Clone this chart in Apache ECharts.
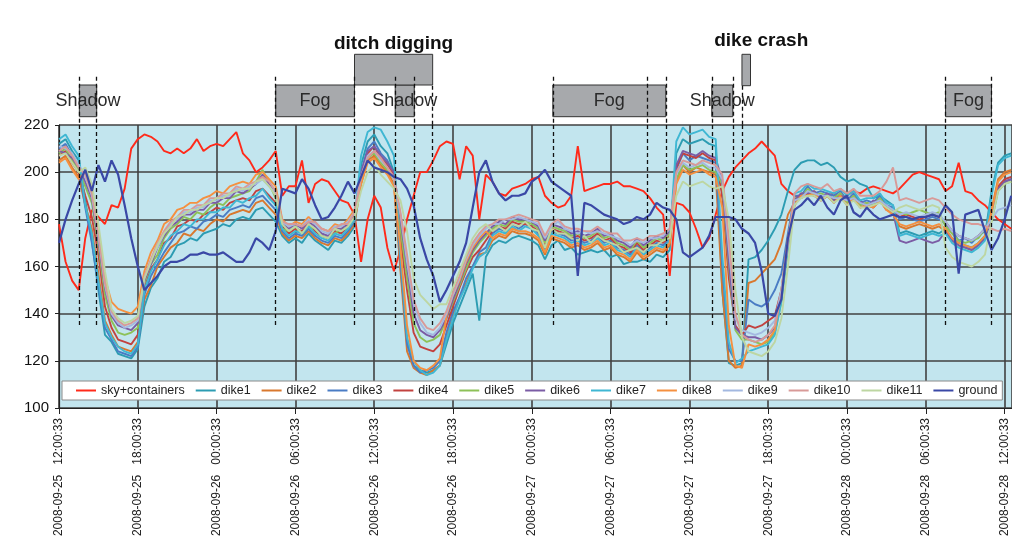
<!DOCTYPE html>
<html>
<head>
<meta charset="utf-8">
<script src="https://cdn.jsdelivr.net/npm/echarts@6/dist/echarts.min.js"></script>
<style>
html,body{margin:0;padding:0;background:#ffffff;}
#chart{width:1012px;height:543px;}
</style>
</head>
<body>
<div id="chart"></div>
<script>
// ---------- DATA ----------
const STEP_H = 0.5; // hours between samples, first sample = 2008-09-25 12:00:33
const xTickLabels = [
  '2008-09-25   12:00:33','2008-09-25   18:00:33','2008-09-26   00:00:33','2008-09-26   06:00:33',
  '2008-09-26   12:00:33','2008-09-26   18:00:33','2008-09-27   00:00:33','2008-09-27   06:00:33',
  '2008-09-27   12:00:33','2008-09-27   18:00:33','2008-09-28   00:00:33','2008-09-28   06:00:33',
  '2008-09-28   12:00:33'
];
const seriesNames = ['sky+containers','dike1','dike2','dike3','dike4','dike5','dike6','dike7','dike8','dike9','dike10','dike11','ground'];

const sky = [178,162,154,150,172,184,181,178,186,185,193,210,214,216,215,213,209,208,210,208,
210,214,209,211,212,211,214,217,208,205,200,202,205,209,190,194,194,205,187,195,
197,196,192,188,187,182,162,180,190,185,168,158,167,180,190,200,200,205,211,213,
212,197,211,207,180,199,196,191,190,193,194,195,197,198,190,187,185,186,190,211,
192,193,194,195,195,196,194,194,193,192,189,185,182,156,187,186,183,176,168,172,
182,192,198,202,205,208,210,213,210,207,195,192,190,189,191,190,188,190,191,189,
190,192,191,193,194,193,192,191,193,196,199,200,199,198,197,192,194,204,192,191,
188,186,183,180,178,176];

const dike1 = [212,214,209,205, 188,171,150,131, 128,123,122,121,125,
143,151,155,162,164,169,170,172,171,174,175,176,178,177,180,181,180,184,185,182,179,
173,170,172,170,174,171,169,167,171,170,173,177,
203,213,216,211,208,200,
160,128,118,116,115,116,118,
127,136,143,150,157,137,164,
169,171,170,172,173,172,171,169,163,169,171,167,168,165,166,167,166,167,164,165,161,162,162,163,162,165,164,167,
208,214,212,213,214,212,211,
150,119,118,119,
163,164,167,171,176,182,192,
201,204,205,205,203,204,202,198,196,197,195,194,189,190,188,186,
174,175,174,173,174,175,174,
176,172,170,169,168,170,173,
192,204,207,208];

const dike2 = [205,207,202,198, 186,176,157,137, 131,126,125,124,128,
146,152,160,164,168,170,174,173,176,175,178,180,179,182,183,184,183,187,188,185,182,
174,171,173,172,175,172,170,169,172,171,174,178,
195,205,207,203,200,195,
158,124,117,115,114,116,118,
130,139,147,153,160,165,166,
171,173,172,175,174,174,173,171,165,172,171,170,168,169,167,168,170,167,168,165,164,162,166,163,165,167,166,169,
196,203,200,202,201,200,199,
150,120,117,118,
153,154,157,160,163,170,182,
187,191,190,192,189,190,188,191,187,190,186,187,186,189,185,183,
177,176,177,178,177,176,177,
175,171,169,168,167,169,172,
184,197,200,201];

const dike3 = [210,212,207,203, 185,170,152,134, 129,124,123,122,126,
148,156,161,166,170,174,175,177,176,179,180,182,181,184,185,186,185,189,190,187,184,
175,172,174,173,176,173,171,170,173,172,175,179,
200,210,213,208,205,199,
162,127,118,115,116,117,120,
132,141,147,155,160,166,168,
174,176,175,178,176,178,177,174,168,175,174,173,171,172,170,171,173,170,171,168,167,165,169,166,168,170,169,172,
201,208,205,207,206,205,204,
160,125,120,120,
146,144,143,145,150,157,174,
190,190,194,191,192,191,190,192,188,191,187,188,187,190,186,185,
180,181,180,179,180,181,180,
178,175,171,172,170,173,175,
180,193,196,197];

const dike4 = [207,209,204,200, 190,181,165,143, 134,129,128,127,131,
151,159,163,170,172,177,178,180,179,182,183,185,184,187,188,189,188,192,193,190,187,
177,174,176,175,178,175,173,172,175,174,177,181,
199,208,211,206,203,199,
172,150,132,126,125,124,127,
135,143,151,158,164,167,171,
175,177,176,179,178,178,177,175,169,176,175,174,172,173,171,172,174,171,172,169,168,166,170,167,169,171,170,173,
202,208,207,206,208,206,205,
190,155,135,131,
135,134,135,137,139,150,170,
186,190,190,191,188,190,187,190,186,189,185,186,185,188,184,183,
181,182,181,180,181,182,181,
179,175,173,172,171,173,176,
181,194,197,198];

const dike5 = [208,210,205,201, 194,187,169,148, 137,132,131,132,134,
153,161,165,172,176,178,181,180,183,182,185,187,186,189,190,191,192,196,201,195,189,
176,175,177,174,177,176,173,172,174,176,176,180,
197,206,208,204,201,197,
176,155,136,130,128,129,131,
138,145,152,159,166,170,173,
176,178,177,180,179,179,178,176,170,177,176,175,173,174,172,173,175,172,173,170,169,167,171,168,170,172,171,174,
197,203,201,202,203,201,200,
195,160,133,129,
129,128,127,128,132,145,168,
189,189,193,190,191,190,189,191,187,190,186,187,186,189,185,184,
183,182,183,184,183,182,183,
177,174,171,170,171,172,176,
179,192,195,196];

const dike6 = [209,208,206,202, 196,189,171,151, 139,135,134,133,136,
154,161,168,173,177,179,182,182,184,184,187,187,189,189,192,191,193,195,199,195,190,
178,176,178,176,179,177,174,173,176,176,178,182,
200,209,211,207,204,200,
180,160,140,133,131,130,133,
138,146,153,161,167,171,174,
177,179,178,181,180,180,179,177,171,178,177,176,174,175,173,174,176,173,174,171,170,168,172,169,171,173,172,175,
203,209,208,207,209,207,206,
196,162,134,131,
130,130,129,131,134,148,170,
188,191,191,192,189,191,188,190,189,188,188,185,188,187,186,183,
171,170,171,172,171,170,171,
175,171,169,168,167,169,172,
180,193,196,197];

const dike7 = [214,216,211,207, 186,174,154,136, 130,126,124,123,127,
150,158,163,169,173,175,178,177,180,180,183,183,185,185,188,187,189,190,193,189,186,
176,173,175,174,177,174,172,171,174,173,176,180,
207,217,219,218,213,207,
165,130,120,116,114,115,118,
129,138,146,152,159,164,166,
173,175,174,177,175,177,176,173,167,174,173,172,170,171,169,170,172,169,170,167,166,164,168,165,167,169,168,171,
213,219,216,217,218,215,214,
165,128,119,121,
124,125,126,127,131,145,168,
191,192,195,193,193,192,191,193,190,192,188,189,189,191,187,186,
173,174,173,172,173,174,173,
174,170,168,167,166,168,171,
190,203,206,207];

const dike8 = [204,206,201,197, 200,193,175,155, 145,142,141,140,143,
158,166,171,178,180,184,185,187,187,189,190,192,191,194,195,196,195,199,200,197,194,
180,177,179,178,181,178,176,175,178,177,180,184,
195,204,206,202,199,194,
168,135,120,117,116,118,121,
139,148,154,162,168,172,175,
172,174,173,176,175,175,174,172,166,173,172,171,169,170,168,169,171,168,169,166,165,163,167,164,166,168,167,170,
195,201,199,200,201,199,198,
185,135,118,117,
127,126,127,129,133,150,172,
186,190,190,191,188,190,187,190,186,189,185,186,185,188,184,182,
178,177,178,179,178,177,178,
176,172,170,169,168,170,173,
183,196,199,200];

const dike9 = [211,210,208,203, 198,190,173,152, 140,136,134,135,137,
155,163,168,174,178,180,183,183,185,185,188,188,190,190,193,192,194,195,197,194,191,
179,177,178,177,180,178,175,174,177,177,179,183,
198,207,209,205,202,197,
182,162,144,136,132,131,134,
140,148,155,163,169,173,176,
178,178,180,180,181,180,179,178,172,177,179,176,175,174,175,174,175,174,173,172,171,169,171,170,172,172,173,176,
199,204,202,203,204,202,202,
197,168,138,133,
132,131,132,134,137,150,170,
188,189,192,191,190,190,189,189,188,189,187,186,187,188,186,184,
182,183,182,181,182,183,182,
179,175,173,172,171,173,176,
180,184,185,186];

const dike10 = [209,211,207,202, 199,191,174,153, 141,137,135,136,138,
156,163,170,175,179,181,184,184,186,186,189,189,191,191,194,193,195,196,198,196,192,
179,178,178,177,179,179,176,175,176,178,178,183,
198,206,209,206,202,198,
183,165,146,138,134,133,136,
141,149,156,164,170,174,177,
178,180,180,181,182,181,180,179,173,178,180,177,176,176,175,175,177,175,174,174,171,171,172,171,173,173,174,176,
200,205,204,203,205,204,203,
199,172,140,131,
129,128,129,131,135,148,170,
191,194,195,194,193,195,192,193,191,193,190,190,190,192,196,202,
188,189,188,187,188,189,188,
185,182,180,179,178,178,177,
176,175,176,175];

const dike11 = [207,208,204,200, 202,195,178,158, 142,138,136,137,139,
155,162,169,174,177,181,182,184,184,186,187,189,189,191,192,193,193,196,197,194,190,
178,175,177,174,178,176,173,172,176,175,177,181,
192,200,203,199,196,193,
188,175,155,148,145,142,144,
144,151,158,165,172,176,178,
175,177,175,178,177,179,176,175,168,176,174,174,172,171,173,170,173,171,170,169,166,167,168,166,169,169,171,172,
190,196,194,195,196,194,193,
194,180,150,130,
124,123,122,124,128,138,160,
186,189,190,190,188,190,187,189,186,188,185,185,186,187,185,183,
185,186,185,184,185,186,185,
168,164,162,161,160,162,165,
179,192,195,196];

const ground = [170,180,188,195,201,192,203,196,205,199,
186,172,160,150,153,156,160,162,162,163,
165,165,166,165,165,166,164,162,162,166,
172,170,167,175,193,192,191,197,193,186,
180,181,185,190,196,191,198,205,202,201,
200,198,197,193,186,172,163,156,145,150,
156,162,170,185,200,205,196,191,188,190,
190,191,196,198,201,196,194,192,190,156,
187,186,184,182,181,180,178,179,181,180,
182,187,185,184,180,166,164,166,168,173,
181,181,181,180,176,174,170,158,140,139,
146,172,184,186,189,186,190,185,182,188,
190,183,181,185,182,180,181,182,181,181,
180,181,181,182,181,186,183,157,182,183,
184,175,167,172,180,190];

// Event annotations (hours after first sample)
const eventLabels = ['Shadow','Fog','Shadow','ditch digging','Fog','Shadow','dike crash','Fog'];
const eventStart  = [1.55, 16.5, 25.6, 22.5, 37.6, 49.7, 52.0, 67.5];
const eventEnd    = [2.87, 22.5, 27.05, 28.45, 46.2, 51.3, 52.65, 71.0];
const eventRow    = [0, 0, 0, 1, 0, 0, 1, 0];
const markerHours = [1.55, 2.87, 16.5, 22.5, 25.6, 27.05, 28.45, 37.6, 44.8, 46.2, 49.7, 51.3, 52.0, 67.5, 71.0];

// ---------- RENDER ----------
const FONT = '"Liberation Sans", Arial, Helvetica, sans-serif';
const seriesValues = [sky,dike1,dike2,dike3,dike4,dike5,dike6,dike7,dike8,dike9,dike10,dike11,ground];
const colors = ['#FF2A1A','#2C9CB2','#D9782E','#4A7CC4','#C2423F','#8DC158','#7B5CA5',
                '#3FB7D3','#F59040','#A3B8E0','#D89A98','#BDD6A2','#3A48A6'];
const X_MAX = 72.56;

const rowBand = [[8.3, 40], [40, 70.7]];

const areaData = eventLabels.map((name, k) => {
  const r = eventRow[k];
  let label;
  if (r === 0) {
    label = {show: true, position: 'inside', fontSize: 18, color: '#2a2a2a', fontFamily: FONT};
  } else {
    const crash = name === 'dike crash';
    label = {show: true, position: 'top', distance: crash ? 4 : 1, offset: crash ? [15, 0] : [0, 0],
             fontSize: 19, fontWeight: 'bold', color: '#111', fontFamily: FONT};
  }
  const y0 = (r === 1 && name === 'dike crash') ? 39.3 : rowBand[r][0];
  return [{name: name, xAxis: eventStart[k], yAxis: y0, label: label},
          {xAxis: eventEnd[k], yAxis: rowBand[r][1]}];
});

function boundaryOfRow(h, row) {
  return eventLabels.some((_, k) => eventRow[k] === row &&
    (Math.abs(eventStart[k] - h) < 1e-6 || Math.abs(eventEnd[k] - h) < 1e-6));
}
const dashStyle = {type: [4, 3], color: '#111', width: 1.3};
const topLines = markerHours.map(h => {
  const top = (boundaryOfRow(h, 1) && !boundaryOfRow(h, 0)) ? 39.3 : 48.3;
  return [{coord: [h, top]}, {coord: [h, 0]}];
});
const plotLines = markerHours.map(h => [{coord: [h, 220]}, {coord: [h, 135.2]}]);

const series = seriesValues.map((vals, s) => ({
  name: seriesNames[s],
  type: 'line',
  xAxisIndex: 0, yAxisIndex: 0,
  data: vals.map((v, i) => [i * STEP_H, v]),
  symbol: 'none', showSymbol: false,
  lineStyle: {width: s === 12 ? 2.2 : 1.9, color: colors[s]},
  itemStyle: {color: colors[s]},
  animation: false,
  z: 2
}));

series.push({
  name: 'events', type: 'line', xAxisIndex: 1, yAxisIndex: 1,
  data: [[-5, -5]], symbol: 'none', lineStyle: {width: 0}, silent: true, animation: false, z: 3,
  markArea: {silent: true, animation: false,
    itemStyle: {color: '#A7A9AC', borderColor: '#333', borderWidth: 1},
    data: areaData}
});
series.push({
  name: 'eventLinesTop', type: 'line', xAxisIndex: 1, yAxisIndex: 1,
  data: [[-5, -5]], symbol: 'none', lineStyle: {width: 0}, silent: true, animation: false, z: 5,
  markLine: {silent: true, animation: false, symbol: ['none', 'none'], label: {show: false},
    lineStyle: dashStyle, data: topLines}
});
series.push({
  name: 'eventLinesPlot', type: 'line', xAxisIndex: 0, yAxisIndex: 0,
  data: [[-5, -5]], symbol: 'none', lineStyle: {width: 0}, silent: true, animation: false, z: 5,
  markLine: {silent: true, animation: false, symbol: ['none', 'none'], label: {show: false},
    lineStyle: dashStyle, data: plotLines}
});

const chart = echarts.init(document.getElementById('chart'), null, {renderer: 'canvas'});
chart.setOption({
  animation: false,
  backgroundColor: '#ffffff',
  textStyle: {fontFamily: FONT},
  legend: {
    data: seriesNames,
    left: 62, top: 381, width: 950,
    icon: 'rect',
    itemWidth: 20, itemHeight: 2, itemGap: 11,
    padding: [3, 5, 3, 14],
    backgroundColor: '#ffffff', borderColor: '#8a8a8a', borderWidth: 1,
    textStyle: {fontSize: 12.5, color: '#222', fontFamily: FONT},
    selectedMode: false
  },
  grid: [
    {left: 59, top: 125, right: 0, bottom: 135, show: true, backgroundColor: '#C2E5EE', borderWidth: 0},
    {left: 59, top: 45, right: 0, height: 80, show: false}
  ],
  xAxis: [
    {type: 'value', gridIndex: 0, min: 0, max: X_MAX, interval: 6,
     axisLine: {show: true, lineStyle: {color: '#222', width: 1.2}},
     axisTick: {show: true, length: 6, lineStyle: {color: '#222'}},
     splitLine: {show: true, lineStyle: {color: '#404040', width: 1.6}},
     axisLabel: {rotate: 90, fontSize: 12, color: '#222', margin: 10, fontFamily: FONT,
       formatter: v => { const k = Math.round(v / 6); return Math.abs(v - k * 6) < 1e-6 ? (xTickLabels[k] || '') : ''; }}
    },
    {type: 'value', gridIndex: 1, min: 0, max: X_MAX, show: false}
  ],
  yAxis: [
    {type: 'value', gridIndex: 0, min: 100, max: 220, interval: 20,
     axisLine: {show: true, lineStyle: {color: '#222', width: 1.2}},
     axisTick: {show: true, length: 4, lineStyle: {color: '#222'}},
     splitLine: {show: true, lineStyle: {color: '#404040', width: 1.6}},
     axisLabel: {fontSize: 15, color: '#111', margin: 10, fontFamily: FONT}
    },
    {type: 'value', gridIndex: 1, min: 0, max: 80, show: false}
  ],
  series: series
});
</script>
</body>
</html>
